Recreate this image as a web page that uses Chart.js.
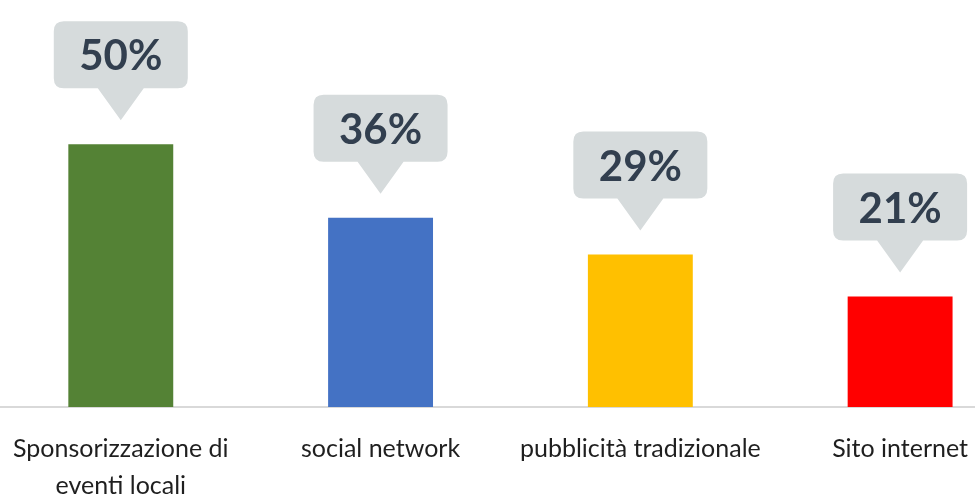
<!DOCTYPE html>
<html>
<head>
<meta charset="utf-8">
<script src="https://cdn.jsdelivr.net/npm/chart.js@4.4.1/dist/chart.umd.min.js"></script>
<style>
  html, body { margin: 0; padding: 0; background: #fff; overflow: hidden; }
  #wrap { position: absolute; left: -10px; top: 0; width: 1040px; height: 500px; }
</style>
</head>
<body>
<div id="wrap"><canvas id="myChart"></canvas></div>
<script>
const categories = [
  ["Sponsorizzazione di", "eventi locali"],
  "social network",
  "pubblicità tradizionale",
  "Sito internet",
];
const values = [50, 36, 29, 21];
const valueLabels = ["50%", "36%", "29%", "21%"];
const barColors = ["#548235", "#4472C4", "#FFC000", "#FF0000"];

Chart.defaults.font.family = "Lato, 'Open Sans', sans-serif";

// grey speech bubbles above the bars
const calloutPlugin = {
  id: "callouts",
  afterDatasetsDraw(chart) {
    const ctx = chart.ctx;
    const bars = chart.getDatasetMeta(0).data;
    const w = 134, h = 67, r = 10, tipLen = 32, tipHalf = 23, gap = 24;

    bars.forEach((bar, i) => {
      const tipY = bar.y - gap;
      const bottom = tipY - tipLen;
      const top = bottom - h;
      const left = bar.x - w / 2;

      ctx.save();
      ctx.fillStyle = "#D6DBDC";
      ctx.beginPath();
      ctx.moveTo(left + r, top);
      ctx.lineTo(left + w - r, top);
      ctx.quadraticCurveTo(left + w, top, left + w, top + r);
      ctx.lineTo(left + w, bottom - r);
      ctx.quadraticCurveTo(left + w, bottom, left + w - r, bottom);
      ctx.lineTo(bar.x + tipHalf, bottom);
      ctx.lineTo(bar.x, tipY);
      ctx.lineTo(bar.x - tipHalf, bottom);
      ctx.lineTo(left + r, bottom);
      ctx.quadraticCurveTo(left, bottom, left, bottom - r);
      ctx.lineTo(left, top + r);
      ctx.quadraticCurveTo(left, top, left + r, top);
      ctx.closePath();
      ctx.fill();

      ctx.fillStyle = "#323F4F";
      ctx.font = "bold 42px Lato, 'Open Sans', sans-serif";
      ctx.textAlign = "center";
      ctx.textBaseline = "middle";
      ctx.fillText(valueLabels[i], bar.x, top + h / 2 + 2);
      ctx.restore();
    });
  },
};

new Chart(document.getElementById("myChart"), {
  type: "bar",
  data: {
    labels: categories,
    datasets: [
      {
        data: values,
        backgroundColor: barColors,
        borderWidth: 0,
        categoryPercentage: 1,
        barPercentage: 105 / 260,
      },
    ],
  },
  options: {
    responsive: true,
    maintainAspectRatio: false,
    animation: false,
    layout: { padding: { top: 39, left: 0, right: 0, bottom: 0 } },
    plugins: {
      legend: { display: false },
      tooltip: { enabled: false },
    },
    scales: {
      x: {
        grid: { display: false, drawTicks: false },
        border: { display: true, color: "#D9D9D9", width: 2 },
        ticks: {
          color: "#1F1F1F",
          font: { size: 25, lineHeight: 1.48 },
          padding: 23,
          maxRotation: 0,
          autoSkip: false,
        },
        afterFit(scale) {
          scale.height = 93;
        },
      },
      y: {
        display: false,
        min: 0,
        max: 70,
      },
    },
  },
  plugins: [calloutPlugin],
});
</script>
</body>
</html>
